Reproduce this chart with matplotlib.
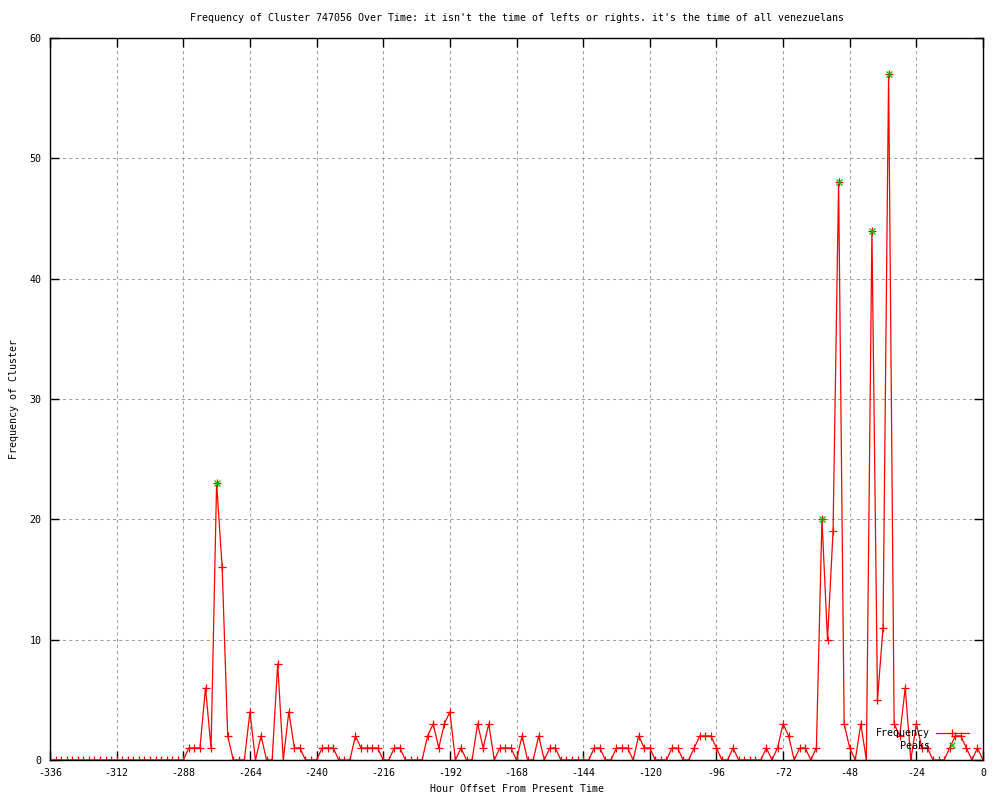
import matplotlib
matplotlib.use("Agg")
import matplotlib.pyplot as plt
import numpy as np

hours = list(range(-336, 1, 2))
freq = [0] * 24 + [
    0, 1, 1, 1, 6, 1, 23, 16, 2, 0,      # -288 .. -270
    0, 0, 4, 0, 2, 0, 0, 8, 0, 4,        # -268 .. -250
    1, 1, 0, 0, 0, 1, 1, 1, 0, 0,        # -248 .. -230
    0, 2, 1, 1, 1, 1, 0, 0, 1, 1,        # -228 .. -210
    0, 0, 0, 0, 2, 3, 1, 3, 4, 0,        # -208 .. -190
    1, 0, 0, 3, 1, 3, 0, 1, 1, 1,        # -188 .. -170
    0, 2, 0, 0, 2, 0, 1, 1, 0, 0,        # -168 .. -150
    0, 0, 0, 0, 1, 1, 0, 0, 1, 1,        # -148 .. -130
    1, 0, 2, 1, 1, 0, 0, 0, 1, 1,        # -128 .. -110
    0, 0, 1, 2, 2, 2, 1, 0, 0, 1,        # -108 .. -90
    0, 0, 0, 0, 0, 1, 0, 1, 3, 2,        # -88 .. -70
    0, 1, 1, 0, 1, 20, 10, 19, 48, 3,    # -68 .. -50
    1, 0, 3, 0, 44, 5, 11, 57, 3, 2,     # -48 .. -30
    6, 0, 3, 1, 1, 0, 0, 0, 1, 2,        # -28 .. -10
    2, 1, 0, 1, 0,                       # -8 .. 0
]
peak_hours = [-276, -58, -52, -40, -34]
peak_values = [23, 20, 48, 44, 57]

title = ("Frequency of Cluster 747056 Over Time: it isn't the time of lefts "
         "or rights. it's the time of all venezuelans")
xticks = list(range(-336, 1, 24))
yticks = list(range(0, 61, 10))

mono = "DejaVu Sans Mono"
fs = 7.2

fig = plt.figure(figsize=(10, 8), dpi=100)
ax = fig.add_axes([0.05, 0.05, 0.933, 0.9025])

ax.plot(hours, freq, color="#ff0000", lw=0.9, marker="+", ms=6, mew=0.9,
        label="Frequency")
ax.plot(peak_hours, peak_values, ls="none", color="#00c000", marker="x",
        ms=5, mew=0.9, label="Peaks")

ax.set_xlim(-336, 0)
ax.set_ylim(0, 60)
ax.set_xticks(xticks)
ax.set_yticks(yticks)
ax.set_xticklabels([str(t) for t in xticks], fontfamily=mono, fontsize=fs)
ax.set_yticklabels([str(t) for t in yticks], fontfamily=mono, fontsize=fs)
ax.tick_params(direction="in", length=6.5, width=1, top=True, right=True,
               pad=6, colors="black")
ax.grid(True, color="#a0a0a0", ls=(0, (3, 3)), lw=0.75)
for s in ax.spines.values():
    s.set_linewidth(1)
    s.set_color("black")

ax.set_title(title, fontfamily=mono, fontsize=fs, pad=12)
ax.set_xlabel("Hour Offset From Present Time", fontfamily=mono, fontsize=fs,
              labelpad=4)
ax.set_ylabel("Frequency of Cluster", fontfamily=mono, fontsize=fs, labelpad=8)

leg = ax.legend(loc="lower right", bbox_to_anchor=(0.992, 0.003), frameon=False,
                markerfirst=False, prop={"family": mono, "size": fs},
                handlelength=3.3, handletextpad=0.6, labelspacing=0.25,
                borderpad=0.2)

fig.savefig("out.png", dpi=100)
